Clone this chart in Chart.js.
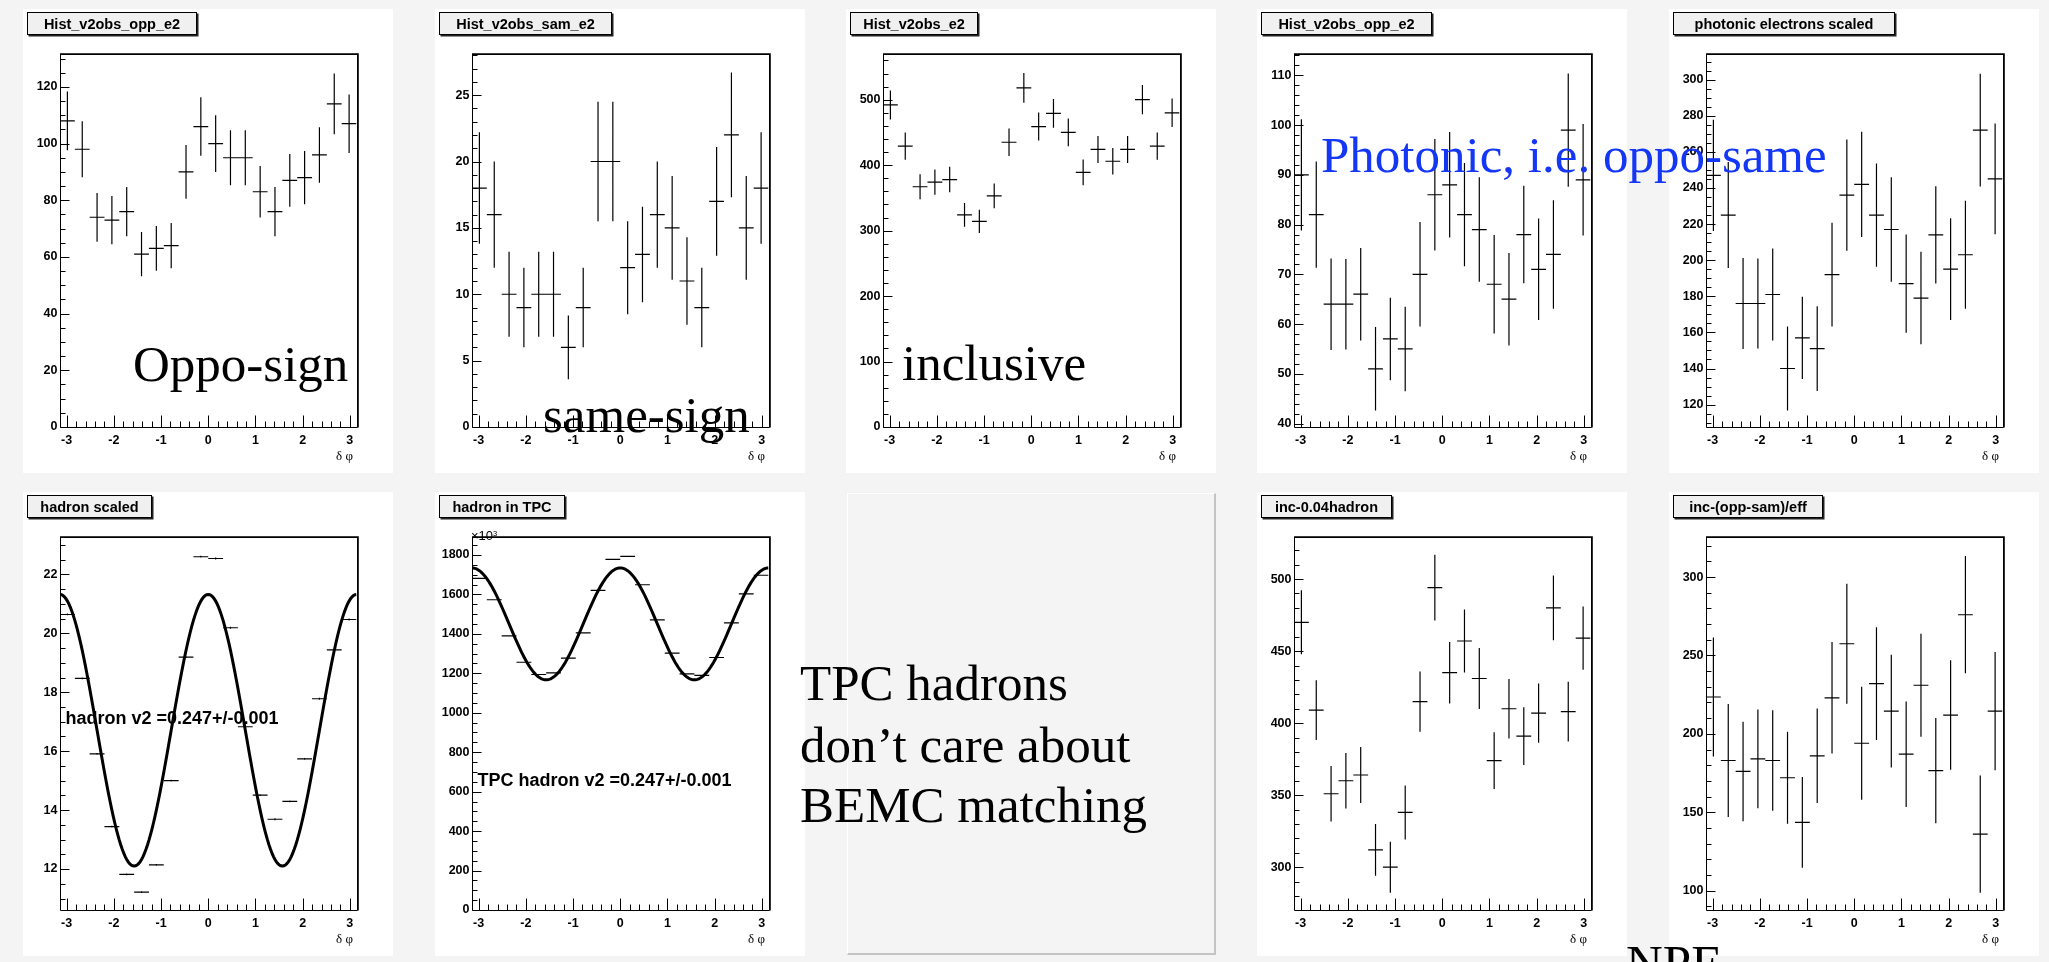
<!DOCTYPE html>
<html>
<head>
<meta charset="utf-8">
<title>Electron–hadron δφ correlations</title>
<script src="https://cdn.jsdelivr.net/npm/chart.js@4.4.1/dist/chart.umd.min.js"></script>
<style>
  html, body { margin: 0; padding: 0; }
  body { width: 2049px; height: 962px; background: #f4f4f4; position: relative; overflow: hidden; }
  .pad { position: absolute; width: 370px; height: 464px; background: #fff; }
  .pad canvas { position: absolute; left: 0; top: 0; }
  .hbox { position: absolute; left: 4px; top: 3px; height: 23px; box-sizing: border-box;
          background: #f0f0f0; border: 1px solid #000; box-shadow: 1.5px 1.5px 0 #222;
          font: bold 14.5px "Liberation Sans", Arial, sans-serif; color: #000;
          display: flex; align-items: center; justify-content: center; white-space: nowrap; }
  .note { position: absolute; white-space: nowrap; line-height: 1; z-index: 5; }
  .big { font-family: "Liberation Serif", "Times New Roman", serif; font-size: 51px; color: #000; }
  .fitlab { font-family: "Liberation Sans", Arial, sans-serif; font-weight: bold; font-size: 18px; color: #000; }
  .xlab { font-family: "Liberation Serif", serif; font-size: 13px; color: #000; }
  .blank { position: absolute; left: 847px; top: 493px; width: 369px; height: 462px; box-sizing: border-box;
           background: #f4f4f4; border-top: 1px solid #fff; border-left: 1px solid #fff;
           border-right: 2px solid #c4c4c4; border-bottom: 2px solid #c4c4c4; }
</style>
</head>
<body>
<script>
// ---- δφ binning (20 bins over [-π, π]) ----
const phiBins = [-2.985, -2.670, -2.356, -2.042, -1.728, -1.414, -1.100, -0.785, -0.471, -0.157,
                  0.157,  0.471,  0.785,  1.100,  1.414,  1.728,  2.042,  2.356,  2.670,  2.985];
const binWidth = 0.3142;
const xTicks = [-3, -2, -1, 0, 1, 2, 3];

// ---- opposite-sign pairs ----
const oppCounts = [108, 98, 74, 73, 76, 61, 63, 64, 90, 106, 100, 95, 95, 83, 76, 87, 88, 96, 114, 107];
const oppErrors = [10.4, 9.9, 8.6, 8.5, 8.7, 7.8, 7.9, 8.0, 9.5, 10.3, 10.0, 9.7, 9.7, 9.1, 8.7, 9.3, 9.4, 9.8, 10.7, 10.3];
const oppYTicks = [0, 20, 40, 60, 80, 100, 120];

// ---- same-sign pairs ----
const samCounts = [18, 16, 10, 9, 10, 10, 6, 9, 20, 20, 12, 13, 16, 15, 11, 9, 17, 22, 15, 18];
const samErrors = [4.2, 4.0, 3.2, 3.0, 3.2, 3.2, 2.4, 3.0, 4.5, 4.5, 3.5, 3.6, 4.0, 3.9, 3.3, 3.0, 4.1, 4.7, 3.9, 4.2];
const samYTicks = [0, 5, 10, 15, 20, 25];

// ---- inclusive electrons ----
const incCounts = [492, 429, 367, 374, 378, 324, 314, 353, 435, 518, 459, 479, 450, 389, 424, 406, 424, 500, 429, 480];
const incErrors = [22.2, 20.7, 19.2, 19.3, 19.4, 18.0, 17.7, 18.8, 20.9, 22.8, 21.4, 21.9, 21.2, 19.7, 20.6, 20.1, 20.6, 22.4, 20.7, 21.9];
const incYTicks = [0, 100, 200, 300, 400, 500];

// ---- photonic (opp - same) ----
const photonicCounts = [90, 82, 64, 64, 66, 51, 57, 55, 70, 86, 88, 82, 79, 68, 65, 78, 71, 74, 99, 89];
const photonicErrors = [11.2, 10.7, 9.2, 9.1, 9.3, 8.4, 8.3, 8.5, 10.5, 11.2, 10.6, 10.4, 10.5, 9.9, 9.3, 9.8, 10.2, 10.9, 11.4, 11.2];
const photonicYTicks = [40, 50, 60, 70, 80, 90, 100, 110];

// ---- photonic electrons scaled by efficiency ----
const photonicScaled = [247, 225, 176, 176, 181, 140, 157, 151, 192, 236, 242, 225, 217, 187, 179, 214, 195, 203, 272, 245];
const photonicScaledErrors = [30.8, 29.4, 25.2, 24.9, 25.5, 23.2, 22.8, 23.5, 28.8, 30.8, 29.1, 28.6, 29.0, 27.2, 25.6, 26.9, 28.2, 29.9, 31.2, 30.7];
const photonicScaledYTicks = [120, 140, 160, 180, 200, 220, 240, 260, 280, 300];

// ---- hadrons (scaled) ----
const hadronScaled = [20.64, 18.47, 15.91, 13.44, 11.82, 11.22, 12.14, 15.00, 19.19, 22.60,
                      22.54, 20.19, 16.83, 14.51, 13.69, 14.30, 15.74, 17.78, 19.44, 20.47];
const hadronScaledErrors = [0.03, 0.03, 0.03, 0.03, 0.03, 0.03, 0.03, 0.03, 0.03, 0.03,
                            0.03, 0.03, 0.03, 0.03, 0.03, 0.03, 0.03, 0.03, 0.03, 0.03];
const hadronYTicks = [12, 14, 16, 18, 20, 22];
const hadronFit = { mean: 16.71, amp: 4.61 };

// ---- hadrons in TPC (×10³) ----
const hadronTPC = [1681, 1573, 1390, 1256, 1194, 1202, 1277, 1405, 1620, 1778,
                   1793, 1649, 1471, 1302, 1197, 1189, 1280, 1456, 1603, 1697];
const hadronTPCErrors = [1.3, 1.3, 1.2, 1.1, 1.1, 1.1, 1.1, 1.2, 1.3, 1.3,
                         1.3, 1.3, 1.2, 1.1, 1.1, 1.1, 1.1, 1.2, 1.3, 1.3];
const tpcYTicks = [0, 200, 400, 600, 800, 1000, 1200, 1400, 1600, 1800];
const tpcFit = { mean: 1450.5, amp: 283.5 };

// ---- inclusive minus hadron contamination ----
const incMinusHadron = [470, 409, 351, 360, 364, 312, 300, 338, 415, 494, 435, 457, 431, 374, 410, 391, 407, 480, 408, 459];
const incMinusHadronErrors = [22.2, 20.7, 19.2, 19.3, 19.4, 18.0, 17.7, 18.8, 20.9, 22.8, 21.4, 21.9, 21.2, 19.7, 20.6, 20.1, 20.6, 22.4, 20.7, 21.9];
const incMinusHadronYTicks = [300, 350, 400, 450, 500];

// ---- non-photonic electrons ----
const npeYield = [223.5, 183, 176, 184, 183, 172, 143.5, 186, 223, 257.5, 194, 232, 214.5, 187, 231, 176.5, 212, 276, 136, 214.5];
const npeErrors = [38.0, 36.0, 31.7, 31.5, 32.0, 29.4, 28.9, 30.1, 35.6, 38.3, 36.1, 36.0, 35.9, 33.6, 32.9, 33.6, 34.9, 37.4, 37.4, 37.7];
const npeYTicks = [100, 150, 200, 250, 300];

// ---- pad layout ----
const panels = [
  { left: 23,   top: 9,   title: 'Hist_v2obs_opp_e2',         boxW: 170, values: oppCounts,      errors: oppErrors,            yMin: 0,     yMax: 131.6, yTicks: oppYTicks,            yMinor: 5 },
  { left: 435,  top: 9,   title: 'Hist_v2obs_sam_e2',         boxW: 173, values: samCounts,      errors: samErrors,            yMin: 0,     yMax: 28.1,  yTicks: samYTicks,            yMinor: 1 },
  { left: 846,  top: 9,   title: 'Hist_v2obs_e2',             boxW: 128, values: incCounts,      errors: incErrors,            yMin: 0,     yMax: 569.8, yTicks: incYTicks,            yMinor: 20 },
  { left: 1257, top: 9,   title: 'Hist_v2obs_opp_e2',         boxW: 171, values: photonicCounts, errors: photonicErrors,       yMin: 39.3,  yMax: 114.3, yTicks: photonicYTicks,       yMinor: 2 },
  { left: 1669, top: 9,   title: 'photonic electrons scaled', boxW: 222, values: photonicScaled, errors: photonicScaledErrors, yMin: 107.6, yMax: 314.2, yTicks: photonicScaledYTicks, yMinor: 5 },
  { left: 23,   top: 492, title: 'hadron scaled',             boxW: 125, values: hadronScaled,   errors: hadronScaledErrors,   yMin: 10.61, yMax: 23.27, yTicks: hadronYTicks,         yMinor: 0.5, fit: hadronFit },
  { left: 435,  top: 492, title: 'hadron in TPC',             boxW: 126, values: hadronTPC,      errors: hadronTPCErrors,      yMin: 0,     yMax: 1891,  yTicks: tpcYTicks,            yMinor: 50,  fit: tpcFit },
  { left: 1257, top: 492, title: 'inc-0.04hadron',            boxW: 131, values: incMinusHadron, errors: incMinusHadronErrors, yMin: 270.3, yMax: 529.2, yTicks: incMinusHadronYTicks, yMinor: 10 },
  { left: 1669, top: 492, title: 'inc-(opp-sam)/eff',         boxW: 150, values: npeYield,       errors: npeErrors,            yMin: 87.6,  yMax: 325.6, yTicks: npeYTicks,            yMinor: 10 }
];

const tickFont = { family: 'Liberation Sans', weight: 'bold', size: 12.5 };

// Frame and inward-pointing major/minor tick marks, ROOT style
function framePlugin(p) {
  return {
    id: 'rootFrame',
    afterDatasetsDraw(chart) {
      const { ctx, chartArea: a } = chart;
      const xs = chart.scales.x, ys = chart.scales.y;
      const L = Math.round(a.left) + 0.5, R = Math.round(a.right) + 0.5;
      const T = Math.round(a.top) + 0.5, B = Math.round(a.bottom) + 0.5;
      ctx.save();
      ctx.strokeStyle = '#000';
      ctx.lineWidth = 1;
      ctx.beginPath();
      ctx.moveTo(L, T); ctx.lineTo(L, B); ctx.lineTo(R, B);
      ctx.stroke();
      ctx.lineWidth = 1.8;
      ctx.beginPath();
      ctx.moveTo(L - 0.5, T - 0.4); ctx.lineTo(R + 0.4, T - 0.4); ctx.lineTo(R + 0.4, B);
      ctx.stroke();
      ctx.lineWidth = 1;
      ctx.beginPath();
      // x ticks
      for (let k = -15; k <= 15; k++) {
        const v = k * 0.2;
        const px = Math.round(xs.getPixelForValue(v)) + 0.5;
        const major = (k % 5 === 0);
        ctx.moveTo(px, B); ctx.lineTo(px, B - (major ? 12 : 6));
      }
      // y ticks
      const kLo = Math.ceil(p.yMin / p.yMinor - 1e-9), kHi = Math.floor(p.yMax / p.yMinor + 1e-9);
      for (let k = kLo; k <= kHi; k++) {
        const v = k * p.yMinor;
        const major = p.yTicks.some(t => Math.abs(t - v) < 1e-6);
        const py = Math.round(ys.getPixelForValue(v)) + 0.5;
        ctx.moveTo(L, py); ctx.lineTo(L + (major ? 9 : 5), py);
      }
      ctx.stroke();
      ctx.restore();
    }
  };
}

function drawPanel(p) {
  const pad = document.createElement('div');
  pad.className = 'pad';
  pad.style.left = p.left + 'px';
  pad.style.top = p.top + 'px';
  document.body.appendChild(pad);

  const cv = document.createElement('canvas');
  cv.width = 370; cv.height = 464;
  cv.style.width = '370px'; cv.style.height = '464px';
  pad.appendChild(cv);

  const box = document.createElement('div');
  box.className = 'hbox';
  box.style.width = p.boxW + 'px';
  box.textContent = p.title;
  pad.appendChild(box);

  // error crosses: horizontal bar spans the bin, vertical bar spans ±error
  const crosses = [];
  p.values.forEach((v, i) => {
    const c = phiBins[i], e = p.errors[i];
    crosses.push({ x: c - binWidth / 2, y: v }, { x: c + binWidth / 2, y: v }, { x: c, y: null },
                 { x: c, y: v - e }, { x: c, y: v + e }, { x: c, y: null });
  });

  const datasets = [];
  if (p.fit) {
    // fitted modulation: mean + amp·cos(2δφ)
    const curve = [];
    for (let i = 0; i <= 200; i++) {
      const x = -Math.PI + i * (2 * Math.PI / 200);
      curve.push({ x, y: p.fit.mean + p.fit.amp * Math.cos(2 * x) });
    }
    datasets.push({ data: curve, showLine: true, borderColor: '#000', borderWidth: 3, pointRadius: 0, tension: 0 });
  }
  datasets.push({ data: crosses, showLine: true, spanGaps: false, borderColor: '#000', borderWidth: 1.2, pointRadius: 0 });

  new Chart(cv, {
    type: 'scatter',
    data: { datasets },
    options: {
      responsive: false,
      animation: false,
      events: [],
      layout: { padding: { left: 0, top: 45, right: 36.5, bottom: 0 } },
      plugins: { legend: { display: false }, tooltip: { enabled: false } },
      scales: {
        x: {
          type: 'linear', min: -Math.PI, max: Math.PI,
          afterBuildTicks: s => { s.ticks = xTicks.map(v => ({ value: v })); },
          afterFit: s => { s.height = 46; },
          grid: { display: false, drawTicks: false }, border: { display: false },
          ticks: { font: tickFont, color: '#000', padding: 6, autoSkip: false, maxRotation: 0, callback: v => String(v) }
        },
        y: {
          type: 'linear', min: p.yMin, max: p.yMax,
          afterBuildTicks: s => { s.ticks = p.yTicks.map(v => ({ value: v })); },
          afterFit: s => { s.width = 37; },
          grid: { display: false, drawTicks: false }, border: { display: false },
          ticks: { font: tickFont, color: '#000', padding: 2.5, autoSkip: false, callback: v => String(v) }
        }
      }
    },
    plugins: [framePlugin(p)]
  });
}

panels.forEach(drawPanel);

// empty pad
const blank = document.createElement('div');
blank.className = 'blank';
document.body.appendChild(blank);

// text placed by its baseline
function note(html, cls, x, baseline, size, ascent, color) {
  const d = document.createElement('div');
  d.className = 'note ' + cls;
  d.innerHTML = html;
  d.style.left = x + 'px';
  d.style.top = (baseline - ascent * size) + 'px';
  if (color) d.style.color = color;
  document.body.appendChild(d);
  return d;
}
const SERIF = 0.8375, SANS = 0.8465;

// δφ axis titles
panels.forEach(p => {
  note('δ φ', 'xlab', p.left + 313, p.top + 450.5, 13, SERIF);
});

// ×10³ multiplier of the TPC hadron pad
note('×10<span style="font-size:7.5px;position:relative;top:-4px">3</span>', 'xlab',
     471, 537, 10, SANS).style.fontFamily = '"Liberation Sans", Arial, sans-serif';

// fit results
note('hadron v2 =0.247+/-0.001', 'fitlab', 65.5, 724, 18, SANS);
note('TPC hadron v2 =0.247+/-0.001', 'fitlab', 477.5, 786, 18, SANS);

// slide annotations
note('Oppo-sign', 'big', 133, 382, 51, SERIF);
note('same-sign', 'big', 543, 432.5, 51, SERIF);
note('inclusive', 'big', 902, 381, 51, SERIF);
note('Photonic, i.e. oppo-same', 'big', 1321, 173, 51, SERIF, '#1436f5');
note('TPC hadrons', 'big', 800, 700.5, 51, SERIF);
note('don’t care about', 'big', 800, 763, 51, SERIF);
note('BEMC matching', 'big', 800, 823, 51, SERIF);
note('NPE', 'big', 1626, 981, 51, SERIF);
</script>
</body>
</html>
